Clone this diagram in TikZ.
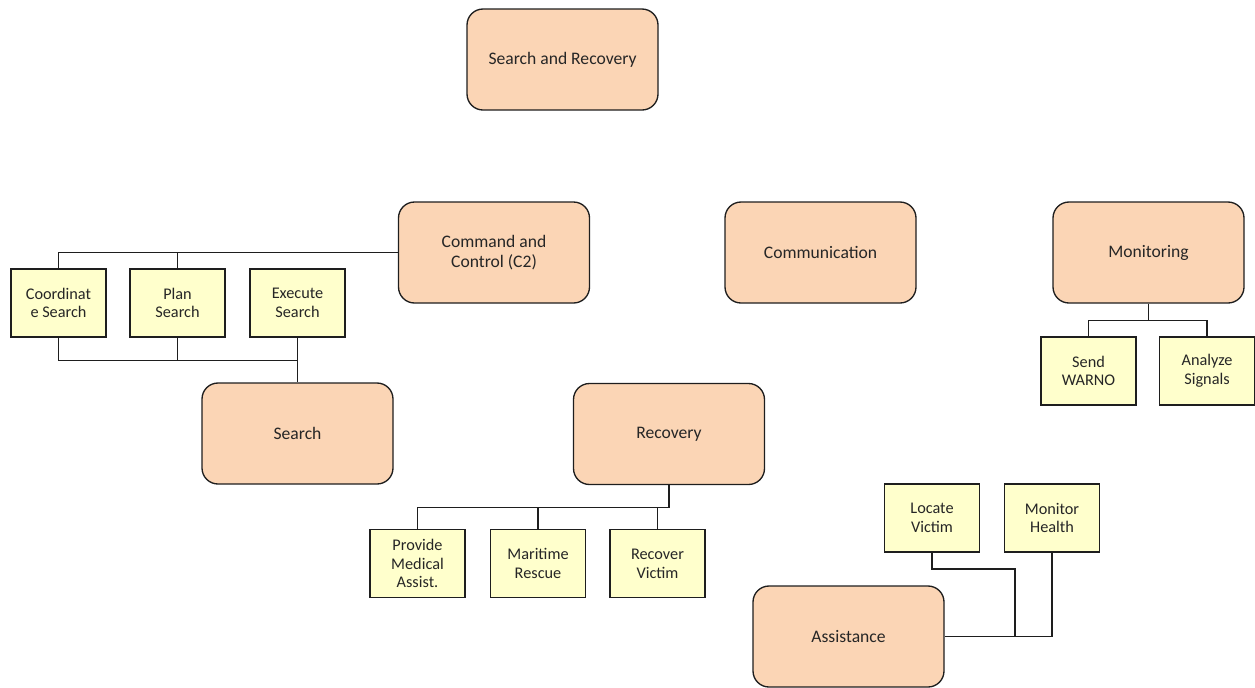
\documentclass[tikz,border=0pt]{standalone}
\usepackage{fontspec}
\setmainfont{Carlito}
\definecolor{peach}{RGB}{251,213,181}
\definecolor{pale}{RGB}{255,255,204}
\definecolor{edge}{RGB}{30,30,30}
\begin{document}
\begin{tikzpicture}[x=0.75pt,y=-0.75pt,
  bigbox/.style={draw=edge,line width=1pt,fill=peach,rounded corners=12pt,
    minimum width=143.25pt,minimum height=75.75pt,inner sep=0pt,align=center,
    font=\fontsize{13.2}{15.5}\selectfont,text=black!85},
  smallbox/.style={draw=edge,line width=0.9pt,fill=pale,
    minimum width=71.25pt,minimum height=51pt,inner sep=0pt,align=center,
    font=\fontsize{12.2}{14}\selectfont,text=black!85},
  link/.style={draw=edge,line width=1pt}]
\useasboundingbox (0,0) rectangle (1255,687);
% big boxes
\node[bigbox] (sr) at (562.5,59.5) {Search and Recovery};
\node[bigbox] (c2) at (494,252.5) {Command and\\Control (C2)};
\node[bigbox] (comm) at (820.5,252.5) {Communication};
\node[bigbox] (mon) at (1148.5,252.5) {Monitoring};
\node[bigbox] (search) at (297.5,433.5) {Search};
\node[bigbox] (recovery) at (669,434) {Recovery};
\node[bigbox] (assist) at (848.5,636.5) {Assistance};
% small boxes
\node[smallbox] (coord) at (58.5,303) {Coordinat\\e Search};
\node[smallbox] (plan) at (177.5,303) {Plan\\Search};
\node[smallbox] (exec) at (297.5,303) {Execute\\Search};
\node[smallbox] (med) at (417.5,563.5) {Provide\\Medical\\Assist.};
\node[smallbox] (mar) at (538,563.5) {Maritime\\Rescue};
\node[smallbox] (recv) at (657.5,563.5) {Recover\\Victim};
\node[smallbox] (send) at (1088.5,371) {Send\\WARNO};
\node[smallbox] (anal) at (1207,371) {Analyze\\Signals};
\node[smallbox] (loc) at (932,518) {Locate\\Victim};
\node[smallbox] (monh) at (1052,518) {Monitor\\Health};
% connectors
\draw[link] (c2.west) -| (coord.north);
\draw[link] (c2.west) -| (plan.north);
\draw[link] (coord.south) -- ++(0,23) -| (search.north);
\draw[link] (plan.south) -- ++(0,23) -| (search.north);
\draw[link] (exec.south) -- (search.north);
\draw[link] (recovery.south) -- ++(0,22.5) -| (med.north);
\draw[link] (recovery.south) -- ++(0,22.5) -| (mar.north);
\draw[link] (recovery.south) -- ++(0,22.5) -| (recv.north);
\draw[link] (mon.south) -- ++(0,17) -| (send.north);
\draw[link] (mon.south) -- ++(0,17) -| (anal.north);
\coordinate (lj) at (1015,569);
\draw[link] (loc.south) |- (lj) |- (assist.east);
\draw[link] (monh.south) |- (assist.east);
\end{tikzpicture}
\end{document}
